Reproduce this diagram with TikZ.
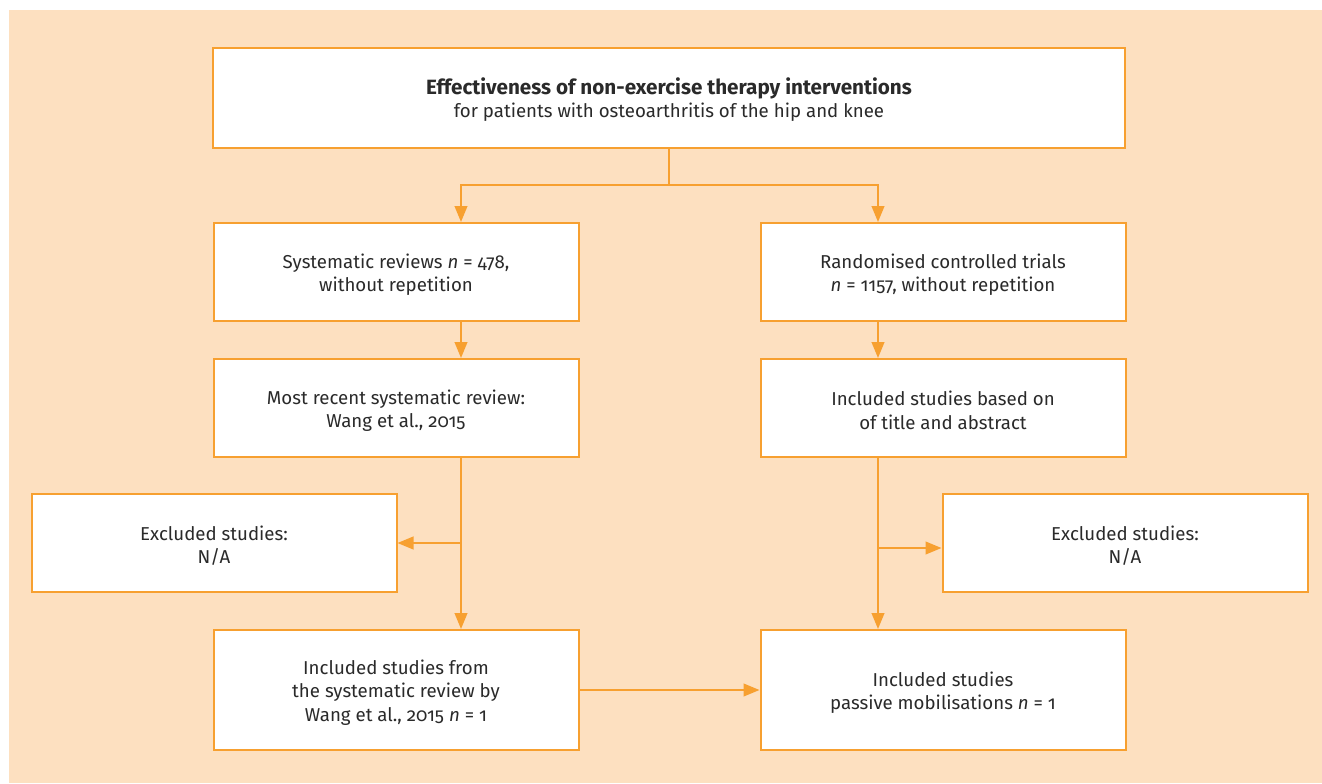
\documentclass[tikz,border=0pt]{standalone}
\usepackage{fontspec}
\setmainfont{Fira Sans}[Numbers=OldStyle]
\usetikzlibrary{arrows.meta}
\definecolor{peach}{HTML}{FDE0C0}
\definecolor{flow}{HTML}{F7A030}
\definecolor{ink}{HTML}{2A2A2A}
\tikzset{
  box/.style={draw=flow, line width=1.5pt, fill=white, align=center,
    text=ink, inner sep=0pt, font=\fontsize{14}{17.5}\selectfont},
  wide/.style={box, minimum width=273.75pt, minimum height=73.5pt},
  tall/.style={box, minimum width=273.75pt, minimum height=90pt},
  link/.style={draw=flow, line width=1.5pt},
  arr/.style={link, -{Triangle[length=12pt,width=9.5pt]}}
}
% empty leading line: pushes each label a little below the box middle
\newcommand{\toppad}{\\[-3pt]}
\begin{document}
\begin{tikzpicture}[x=0.75pt,y=-0.75pt]
\useasboundingbox (0,0) rectangle (1322,783);
\fill[peach] (9,10) rectangle (1322,783);

\node[box, minimum width=684pt, minimum height=75pt] (title) at (669,98)
  {\toppad{\fontsize{15.5}{19}\selectfont\bfseries Effectiveness of non-exercise therapy interventions}\\for patients with osteoarthritis of the hip and knee};

\node[wide] (sr) at (396,272) {\toppad Systematic reviews \textit{n} = 478,\\without repetition};
\node[wide] (rct) at (943,272) {\toppad Randomised controlled trials\\\textit{n} = 1157, without repetition};
\node[wide] (recent) at (396,408) {\toppad Most recent systematic review:\\Wang et al., 2015};
\node[wide] (ta) at (943,408) {\toppad Included studies based on\\of title and abstract};
\node[wide] (exL) at (214,543) {\toppad Excluded studies:\\N/A};
\node[wide] (exR) at (1125,543) {\toppad Excluded studies:\\N/A};
\node[tall] (incl) at (396,690) {\toppad Included studies from\\the systematic review by\\Wang et al., 2015 \textit{n} = 1};
\node[tall] (pass) at (943,690) {\toppad Included studies\\passive mobilisations \textit{n} = 1};

\coordinate (jL) at (461,185);
\coordinate (jR) at (878,185);

\draw[link] (title.south) -- (title.south |- jL);
\draw[arr] (title.south |- jL) -| (jL |- sr.north);
\draw[arr] (title.south |- jR) -| (jR |- rct.north);

\draw[arr] (jL |- sr.south) -- (jL |- recent.north);
\draw[arr] (jL |- recent.south) -- (jL |- incl.north);
\draw[arr] (jL |- exL.east) -- (exL.east);

\draw[arr] (jR |- rct.south) -- (jR |- ta.north);
\draw[arr] (jR |- ta.south) -- (jR |- pass.north);
\draw[arr] ([yshift=-3.75pt]jR |- exR.west) -- ([yshift=-3.75pt]exR.west);

\draw[arr] (incl.east) -- (pass.west);
\end{tikzpicture}
\end{document}
